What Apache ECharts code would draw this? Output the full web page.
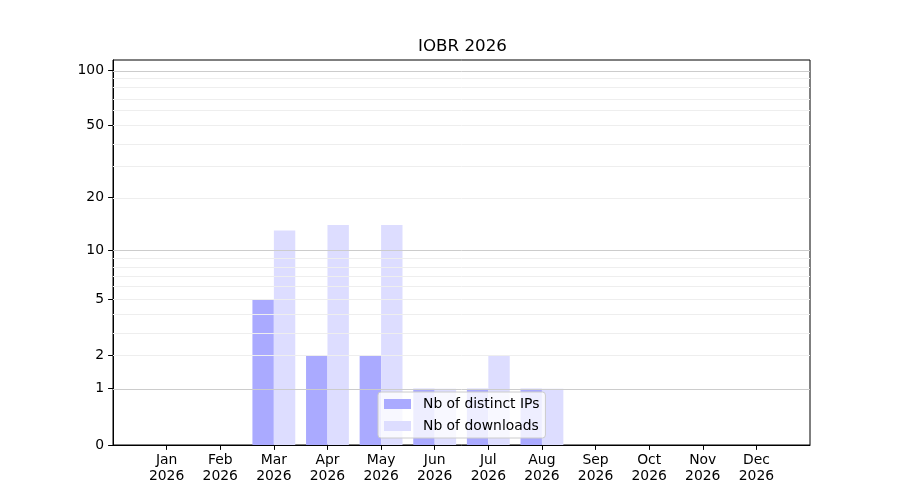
<!DOCTYPE html>
<html>
<head>
<meta charset="utf-8">
<script src="https://cdn.jsdelivr.net/npm/echarts@6/dist/echarts.min.js"></script>
<style>
  html, body { margin: 0; padding: 0; background: #fff; }
  #chart { width: 900px; height: 500px; }
</style>
</head>
<body>
<div id="chart"></div>
<script>
// data
const months = ['Jan', 'Feb', 'Mar', 'Apr', 'May', 'Jun', 'Jul', 'Aug', 'Sep', 'Oct', 'Nov', 'Dec'];
const year = '2026';
const distinctIPs = [0, 0, 5, 2, 2, 1, 1, 1, 0, 0, 0, 0];
const downloads = [0, 0, 13, 14, 14, 1, 2, 1, 0, 0, 0, 0];
const yTicks = [0, 1, 2, 5, 10, 20, 50, 100];
const majorGrid = [1, 10, 100];
const minorGrid = [2, 3, 4, 5, 6, 7, 8, 9, 20, 30, 40, 50, 60, 70, 80, 90];

// y scale is log10(1 + v)
const fwd = v => Math.log10(1 + v);
const inv = t => Math.round(Math.pow(10, t) - 1);

const font = '"DejaVu Sans", sans-serif';
const fs = 13.9;
const barW = 21.4;

const chart = echarts.init(document.getElementById('chart'), null, { renderer: 'canvas' });

const gridLines = majorGrid.map(v => ({ yAxis: fwd(v), lineStyle: { color: '#cccccc', width: 1, type: 'solid' } }))
  .concat(minorGrid.map(v => ({ yAxis: fwd(v), lineStyle: { color: '#eeeeee', width: 1, type: 'solid' } })));

chart.setOption({
  animation: false,
  backgroundColor: '#fff',
  title: {
    text: 'IOBR ' + year,
    left: 418,
    top: 38,
    padding: 0,
    textStyle: { fontFamily: font, fontSize: 16.7, fontWeight: 'normal', color: '#000' }
  },
  grid: {
    left: 113, right: 90, top: 60, bottom: 55,
    show: true, borderColor: '#000', borderWidth: 1, backgroundColor: 'transparent'
  },
  legend: {
    orient: 'vertical',
    left: 378,
    top: 392,
    padding: [5, 6, 5, 6],
    itemWidth: 27,
    itemHeight: 10,
    itemGap: 8,
    backgroundColor: 'rgba(255,255,255,0.8)',
    borderColor: '#cccccc',
    borderWidth: 1,
    borderRadius: 3,
    textStyle: { fontFamily: font, fontSize: fs, color: '#000', padding: [0, 0, 0, 7] },
    data: [
      { name: 'Nb of distinct IPs', icon: 'rect' },
      { name: 'Nb of downloads', icon: 'rect' }
    ]
  },
  xAxis: {
    type: 'value',
    min: -1,
    max: 12,
    axisLine: { show: true, onZero: false, lineStyle: { color: '#000', width: 1 } },
    axisTick: { show: true, length: 4.9, lineStyle: { color: '#000', width: 1 }, customValues: months.map((m, i) => i) },
    axisLabel: {
      customValues: months.map((m, i) => i),
      formatter: v => months[v] + '\n' + year,
      fontFamily: font, fontSize: fs, color: '#000', lineHeight: 16, margin: 7
    },
    splitLine: { show: false }
  },
  yAxis: {
    type: 'value',
    min: 0,
    max: 2.058,
    axisLine: { show: true, onZero: false, lineStyle: { color: '#000', width: 1 } },
    axisTick: { show: true, length: 4.9, lineStyle: { color: '#000', width: 1 }, customValues: yTicks.map(fwd) },
    axisLabel: {
      customValues: yTicks.map(fwd),
      formatter: v => String(inv(v)),
      fontFamily: font, fontSize: fs, color: '#000', margin: 9
    },
    splitLine: { show: false }
  },
  series: [
    {
      name: 'Nb of distinct IPs',
      type: 'bar',
      barWidth: barW,
      barGap: '-100%',
      itemStyle: { color: '#aaaaff' },
      data: distinctIPs.map((v, i) => [i - 0.2, fwd(v)]),
      markLine: {
        silent: true,
        symbol: 'none',
        label: { show: false },
        animation: false,
        data: gridLines
      }
    },
    {
      name: 'Nb of downloads',
      type: 'bar',
      barWidth: barW,
      barGap: '-100%',
      itemStyle: { color: '#ddddff' },
      data: downloads.map((v, i) => [i + 0.2, fwd(v)])
    }
  ]
});
</script>
</body>
</html>
